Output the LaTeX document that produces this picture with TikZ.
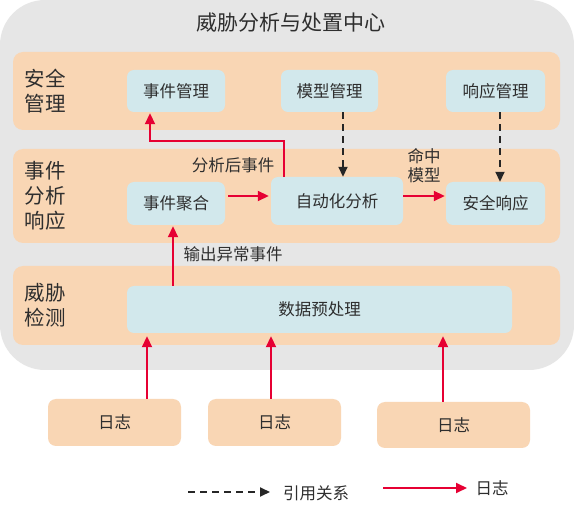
\documentclass[tikz,border=0pt]{standalone}
\usepackage{fontspec}
\setmainfont{Noto Sans CJK SC}
\usetikzlibrary{arrows.meta}
\definecolor{outergray}{HTML}{E6E6E6}
\definecolor{bandor}{HTML}{F9D6B4}
\definecolor{boxblue}{HTML}{D2E8EC}
\definecolor{redln}{HTML}{E60033}
\definecolor{txt}{HTML}{2E2E2E}
\tikzset{
  band/.style={fill=bandor, rounded corners=10pt, inner sep=0pt, minimum width=547pt},
  bandlabel/.style={text=txt, align=left, font=\fontsize{20.5}{25}\selectfont, inner sep=0pt},
  box/.style={fill=boxblue, rounded corners=7pt, inner sep=0pt, text=txt, font=\fontsize{16.5}{19}\selectfont},
  logbox/.style={fill=bandor, rounded corners=8pt, inner sep=0pt, text=txt, font=\fontsize{16.5}{19}\selectfont},
  lbl/.style={text=txt, font=\fontsize{16.5}{19}\selectfont, inner sep=0pt, align=center},
  redarr/.style={draw=redln, line width=1.8pt, -{Triangle[length=11pt,width=10pt]}},
  blkdash/.style={draw=black!85, line width=1.8pt, dash pattern=on 7pt off 5pt, -{Triangle[length=10pt,width=9pt]}},
}
\begin{document}
\begin{tikzpicture}[x=1pt,y=-1pt]
\useasboundingbox (0,0) rectangle (574,513);
\fill[white] (0,0) rectangle (574,513);
\node[fill=outergray, rounded corners=45pt, minimum width=574pt, minimum height=370pt, inner sep=0pt] (outer) at (287,185) {};
\node[text=txt, font=\fontsize{21}{24}\selectfont, inner sep=0pt] (title) at (291,23) {威胁分析与处置中心};
% bands
\node[band, minimum height=78pt] (band1) at (286.5,91) {};
\node[band, minimum height=94pt] (band2) at (286.5,196) {};
\node[band, minimum height=79pt] (band3) at (286.5,305.5) {};
\node[bandlabel] (l1) at (45,91) {安全\\管理};
\node[bandlabel] (l2) at (45,196) {事件\\分析\\响应};
\node[bandlabel] (l3) at (45,305) {威胁\\检测};
% boxes
\node[box, minimum width=98pt, minimum height=42pt] (evm) at (176,91) {事件管理};
\node[box, minimum width=97pt, minimum height=42pt] (model) at (329.5,91) {模型管理};
\node[box, minimum width=99pt, minimum height=42pt] (resp) at (495.5,91) {响应管理};
\node[box, minimum width=98pt, minimum height=43pt] (agg) at (176,203.5) {事件聚合};
\node[box, minimum width=132pt, minimum height=48pt] (auto) at (337,201) {自动化分析};
\node[box, minimum width=99pt, minimum height=43pt] (sec) at (495.5,203.5) {安全响应};
\node[box, minimum width=385pt, minimum height=47pt] (pre) at (319.5,309.5) {数据预处理};
% logs
\node[logbox, minimum width=133pt, minimum height=47pt] (log1) at (114.5,422.5) {日志};
\node[logbox, minimum width=133pt, minimum height=47pt] (log2) at (274.5,422.5) {日志};
\node[logbox, minimum width=153pt, minimum height=46pt] (log3) at (453.5,425) {日志};
% helper coordinates
\coordinate (c1) at (147,0);
\coordinate (c2) at (271,0);
\coordinate (c3) at (443,0);
\coordinate (c4) at (173,0);
\coordinate (c5) at (284,0);
\coordinate (c6) at (150,0);
\coordinate (c7) at (343,0);
\coordinate (c8) at (500,0);
\coordinate (c9) at (0,141);
\coordinate (r1) at (0,196);
% connectors
\draw[redarr, shorten >=3pt] (log1.north -| c1) -- (pre.south -| c1);
\draw[redarr, shorten >=3pt] (log2.north -| c2) -- (pre.south -| c2);
\draw[redarr, shorten >=3pt] (log3.north -| c3) -- (pre.south -| c3);
\draw[redarr, shorten >=1pt] (pre.north -| c4) -- (agg.south -| c4);
\draw[redarr, shorten <=3pt, shorten >=2pt] (agg.east |- r1) -- (auto.west |- r1);
\draw[redarr, shorten >=1pt] (auto.north -| c5) -- (c5 |- c9) -- (c6 |- c9) -- (evm.south -| c6);
\draw[blkdash] (model.south -| c7) -- (auto.north -| c7);
\draw[blkdash] (resp.south -| c8) -- (sec.north -| c8);
\draw[redarr, shorten >=1pt] (auto.east |- r1) -- (sec.west |- r1);
% labels
\node[lbl] (t1) at (233,165) {分析后事件};
\node[lbl] (t2) at (233,254) {输出异常事件};
\node[lbl] (t3) at (424,166) {命中\\模型};
% legend
\coordinate (lg1) at (188,492);
\coordinate (lg2) at (270,492);
\coordinate (lg3) at (383,488);
\coordinate (lg4) at (467,488);
\draw[blkdash] (lg1) -- (lg2);
\node[lbl] (lt1) at (316,493) {引用关系};
\draw[redarr] (lg3) -- (lg4);
\node[lbl] (lt2) at (492,488) {日志};
\end{tikzpicture}
\end{document}
